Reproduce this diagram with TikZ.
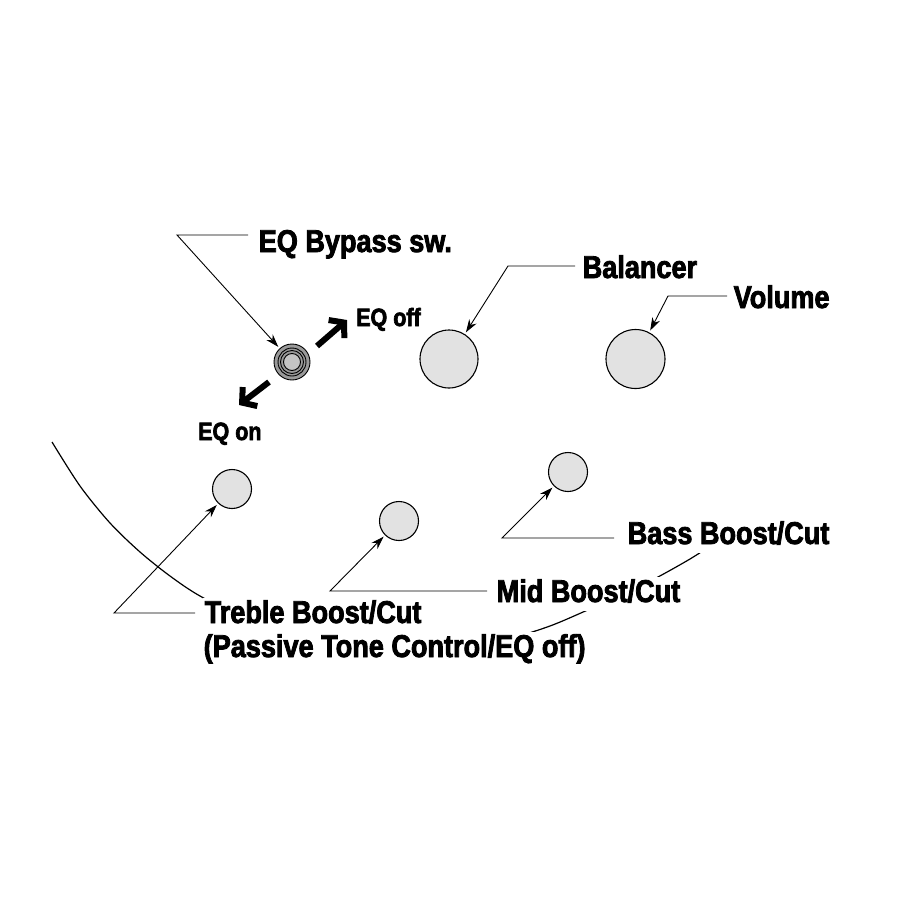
\documentclass[tikz,border=0pt]{standalone}
\usepackage{fontspec}
\setmainfont[FakeStretch=0.86, BoldFeatures={FakeBold=2.6}]{Liberation Sans}
\usetikzlibrary{arrows.meta}
\definecolor{knobgray}{HTML}{E2E2E2}
\definecolor{swgray}{HTML}{9A9A9A}
\definecolor{swinner}{HTML}{C4C4C4}
\begin{document}
\begin{tikzpicture}[x=1pt,y=-1pt,
  lbl/.style={font=\bfseries\fontsize{31.5}{34}\selectfont, anchor=base west, inner sep=1.5pt,
    text height=24pt, text depth=7pt, fill=white},
  smalllbl/.style={font=\bfseries\fontsize{25}{28}\selectfont, anchor=base west, inner sep=1pt},
  knob/.style={circle, draw=black, line width=1.1pt, fill=knobgray, inner sep=0pt},
  lead/.style={line width=0.9pt, -{Stealth[length=13pt,width=8.5pt]}, shorten >=2pt},
  bigarrow/.style={line width=6pt, -{Straight Barb[length=10pt,width=24pt]}}
]
\useasboundingbox (0,0) rectangle (900,900);
\fill[white] (0,0) rectangle (900,900);

% body outline
\draw[line width=1.2pt] plot[smooth, tension=0.5] coordinates
  {(52,442) (80,486) (110,523) (140,552) (170,576) (200,596) (250,621) (300,639)
   (350,650) (410,653) (460,649) (505,640) (550,626) (590,609) (625,594) (658,577)
   (690,559) (715,543)};

% knobs
\node[knob, minimum size=58pt] (bal) at (449,359) {};
\node[knob, minimum size=59pt] (vol) at (635.5,359) {};
\node[knob, minimum size=39pt] (treb) at (232,489) {};
\node[knob, minimum size=39pt] (mid) at (399,521) {};
\node[knob, minimum size=39pt] (bass) at (568,472) {};

% switch
\node[circle, draw=black, line width=0.9pt, fill=swgray, minimum size=36pt, inner sep=0pt] (sw) at (292,362) {};
\draw[line width=0.9pt] (sw.center) circle (14pt);
\draw[line width=0.9pt] (sw.center) circle (11.5pt);
\draw[line width=0.9pt, fill=swinner] (sw.center) circle (8.5pt);

% labels
\node[lbl] (lbyp) at (257,252) {EQ Bypass sw.};
\node[lbl] (lbal) at (581,278) {Balancer};
\node[lbl] (lvol) at (732,308) {Volume};
\node[lbl] (ltreb) at (203,623) {Treble Boost/Cut};
\node[lbl] (lpass) at (202,657) {(Passive Tone Control/EQ off)};
\node[lbl] (lmid) at (495,602) {Mid Boost/Cut};
\node[lbl] (lbass) at (626,544) {Bass Boost/Cut};
\node[smalllbl] (loff) at (355,326) {EQ off};
\node[smalllbl] (lon) at (197,440) {EQ on};

% leader coordinates
\coordinate (byp0) at (248,235);
\coordinate (byp1) at (177,235);
\coordinate (bal0) at (575,266);
\coordinate (bal1) at (508,266);
\coordinate (vol0) at (727,296);
\coordinate (vol1) at (668,296);
\coordinate (treb0) at (195,613);
\coordinate (treb1) at (114,613);
\coordinate (mid0) at (487,591);
\coordinate (mid1) at (330,591);
\coordinate (bass0) at (614,538);
\coordinate (bass1) at (502,538);

\draw[lead] (byp0) -- (byp1) -- (sw);
\draw[lead] (bal0) -- (bal1) -- (bal);
\draw[lead] (vol0) -- (vol1) -- (vol);
\draw[lead] (treb0) -- (treb1) -- (treb);
\draw[lead] (mid0) -- (mid1) -- (mid);
\draw[lead] (bass0) -- (bass1) -- (bass);

% switch direction arrows
\coordinate (offtail) at (317,346);
\coordinate (offtip) at (347,320);
\coordinate (ontail) at (269,382);
\coordinate (ontip) at (239,405);
\draw[bigarrow] (offtail) -- (offtip);
\draw[bigarrow] (ontail) -- (ontip);
\end{tikzpicture}
\end{document}
